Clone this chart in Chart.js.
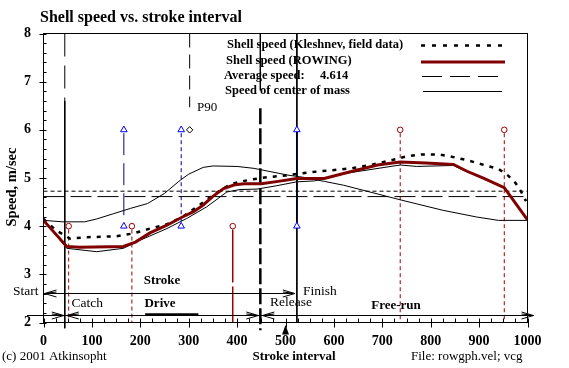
<!DOCTYPE html>
<html><head><meta charset="utf-8">
<script src="https://cdn.jsdelivr.net/npm/chart.js@4/dist/chart.umd.min.js"></script>
<style>html,body{margin:0;padding:0;background:#fff;}#wrap{width:569px;height:368px;}</style>
</head><body><div id="wrap"><canvas id="c" width="569" height="368"></canvas></div>
<script>
// ---- data ----
const xTickLabels = [0,100,200,300,400,500,600,700,800,900,1000];
const yTickLabels = [2,3,4,5,6,7,8];
const kleshX = [0,25,55,85,120,150,186,220,255,285,320,355,386,410,430,465,500,550,595,635,675,715,750,780,815,840,875,910,940,960,975,985,997];
const kleshY = [4.15,3.92,3.74,3.77,3.78,3.79,3.85,3.95,4.04,4.18,4.42,4.68,4.87,4.93,4.97,5.02,5.05,5.12,5.16,5.20,5.27,5.36,5.45,5.49,5.49,5.45,5.37,5.27,5.19,5.05,4.90,4.75,4.52];
const rowX = [0,48,75,165,190,220,255,285,310,330,350,372,395,415,450,485,523,580,630,690,737,790,847,875,910,952,1000];
const rowY = [4.12,3.58,3.56,3.58,3.67,3.86,4.02,4.18,4.30,4.44,4.62,4.78,4.86,4.88,4.88,4.93,4.99,4.99,5.12,5.27,5.33,5.31,5.28,5.14,4.99,4.80,4.13];
const thinX = [0,48,110,165,200,255,296,337,379,406,441,482,523,560,620,737,771,847,875,910,952,1000];
const thinY = [4.12,3.54,3.47,3.54,3.71,3.95,4.16,4.40,4.71,4.76,4.77,4.84,4.92,4.94,5.09,5.27,5.24,5.26,5.13,4.98,4.79,4.12];
const comX = [0,40,85,110,145,180,215,250,282,300,330,350,400,435,470,505,540,580,620,740,825,895,940,1000];
const comY = [4.12,4.09,4.09,4.15,4.26,4.37,4.47,4.68,4.95,5.08,5.22,5.25,5.24,5.20,5.13,5.06,5.01,4.93,4.85,4.54,4.33,4.19,4.12,4.12];
const avgSpeed = 4.614;
const upperLevel = 4.726;
const catchX = 44, releaseX = 448, finishX = 523.5, p90X = 302, strokeMarkX = 500;
const blueX = [166, 284.5, 523.5];
const triLevels = [6, 4];
const redLowX = [52, 182.6, 391];
const redLowY = 4;
const redHighX = [737, 952];
const redHighY = 6;
const diamondX = [302], diamondY = [6];
const strokeLineY = 2.61, phaseLineY = 2.15;
const powerBarX = [210, 320];

// ---- helpers ----
const pts = (xs, ys) => xs.map((x, i) => ({x, y: ys[i]}));
const seg = (x, y0, y1) => [{x, y: y0}, {x, y: y1}];
const hline = y => [{x: 0, y}, {x: 1000, y}];
const line = (data, color, width, dash, extra) => Object.assign({
  data, showLine: true, borderColor: color, borderWidth: width, borderDash: dash || [],
  pointRadius: 0, fill: false, tension: 0, borderCapStyle: 'butt'
}, extra || {});
const FONT = '"Liberation Serif", "Times New Roman", serif';
const RED = '#800000', DRED = '#a00000', NAVY = '#000090', BLUE = '#0000ff';

const triData = [];
blueX.forEach(x => triLevels.forEach(y => triData.push({x, y})));
const circData = redLowX.map(x => ({x, y: redLowY})).concat(redHighX.map(x => ({x, y: redHighY})));

const datasets = [
  {data: triData, showLine: false, pointStyle: 'triangle', pointRadius: 3.8, pointBorderColor: BLUE, pointBackgroundColor: '#fff', pointBorderWidth: 1},
  {data: circData, showLine: false, pointStyle: 'circle', pointRadius: 2.8, pointBorderColor: DRED, pointBackgroundColor: '#fff', pointBorderWidth: 1},
  {data: pts(diamondX, diamondY), showLine: false, pointStyle: 'rectRot', pointRadius: 3.2, pointBorderColor: '#000', pointBackgroundColor: '#fff', pointBorderWidth: 1},
  line(pts(rowX, rowY), RED, 3),
  line(pts(thinX, thinY), '#000', 1),
  line(pts(kleshX, kleshY), '#000', 2.5, [4, 6]),
  line(pts(comX, comY), '#000', 1),
  line(hline(avgSpeed), '#000', 1, [21, 6]),
  line(hline(upperLevel), '#000', 1, [4, 3]),
  line(seg(blueX[0], 5.93, 4.07), NAVY, 1, [22, 8]),
  line(seg(blueX[1], 5.93, 4.07), NAVY, 1, [4, 3]),
  line(seg(finishX, 8, 2), '#000', 1),
  line(seg(finishX, 6, 4), BLUE, 1),
  line(seg(catchX, 8, 6.6), '#000', 1, [23, 9]),
  line(seg(catchX, 6.6, 1.88), '#000', 1, [], {clip: false}),
  line(seg(p90X, 8, 6.47), '#000', 1, [14, 7]),
  line(seg(releaseX, 8, 6.82), '#000', 1),
  line(seg(releaseX, 6.45, 1.84), '#000', 2.5, [16, 4], {clip: false}),
  line(seg(redLowX[0], 3.93, 2), DRED, 1, [4, 3]),
  line(seg(redLowX[1], 3.93, 2), DRED, 1, [4, 3]),
  line(seg(redLowX[2], 3.93, 2), DRED, 1.5, [53, 4]),
  line(seg(redHighX[0], 5.93, 2), DRED, 1, [4, 3]),
  line(seg(redHighX[1], 5.93, 2), DRED, 1, [4, 3])
];

function T(ctx, s, x, y, font, align) {
  ctx.font = font; ctx.textAlign = align || 'left'; ctx.textBaseline = 'middle';
  ctx.fillStyle = '#000'; ctx.fillText(s, x, y);
}
function L(ctx, x0, y0, x1, y1, w, color, dash) {
  ctx.save(); ctx.beginPath(); ctx.lineWidth = w || 1; ctx.strokeStyle = color || '#000';
  ctx.setLineDash(dash || []); ctx.moveTo(x0, y0); ctx.lineTo(x1, y1); ctx.stroke(); ctx.restore();
}
function chevron(ctx, x, y, dir) {
  ctx.save(); ctx.beginPath(); ctx.strokeStyle = '#000'; ctx.lineWidth = 1;
  ctx.moveTo(x - dir * 12, y - 3.5); ctx.lineTo(x, y); ctx.lineTo(x - dir * 12, y + 3.5);
  ctx.moveTo(x - dir * 12, y - 1.5); ctx.lineTo(x - dir * 3, y - 0.5);
  ctx.stroke(); ctx.restore();
}

const deco = {
  id: 'deco',
  beforeDraw(chart) {
    const ctx = chart.ctx;
    ctx.save(); ctx.fillStyle = '#fff'; ctx.fillRect(0, 0, chart.width, chart.height); ctx.restore();
  },
  beforeDatasetsDraw(chart) {
    const ctx = chart.ctx;
    const lf = 'bold 12.5px ' + FONT;
    T(ctx, 'Shell speed (Kleshnev, field data)', 227, 45, lf);
    T(ctx, 'Shell speed (ROWING)', 226, 61, lf);
    T(ctx, 'Average speed:', 224, 75.5, lf);
    T(ctx, avgSpeed.toFixed(3), 320, 75.5, lf);
    T(ctx, 'Speed of center of mass', 225, 90.5, lf);
    L(ctx, 421, 45.5, 503, 45.5, 2.5, '#000', [4, 7]);
    L(ctx, 421, 62, 505, 62, 3, RED);
    L(ctx, 422, 76.5, 502, 76.5, 1, '#000', [20, 8]);
    L(ctx, 423, 91.5, 502, 91.5, 1, '#000');
  },
  afterDatasetsDraw(chart) {
    const ctx = chart.ctx, xs = chart.scales.x, ys = chart.scales.y, a = chart.chartArea;
    // frame
    ctx.save(); ctx.strokeStyle = '#000'; ctx.lineWidth = 1;
    ctx.strokeRect(a.left, a.top, a.right - a.left, a.bottom - a.top); ctx.restore();
    // x ticks
    for (let v = 0; v <= 1000; v += 25) {
      const px = Math.round(xs.getPixelForValue(v)) + 0.5;
      const major = v % 100 === 0;
      L(ctx, px, a.bottom - 4, px, a.bottom + (major ? 5 : 0), 1);
    }
    for (let i = 0; i <= 30; i++) {
      const v = 2 + i * 0.2;
      const py = Math.round(ys.getPixelForValue(v)) + 0.5;
      const major = i % 5 === 0;
      L(ctx, a.left - (major ? 4 : 0), py, a.left + 3, py, 1);
    }
    const tf = 'bold 14px ' + FONT;
    xTickLabels.forEach(v => T(ctx, String(v), xs.getPixelForValue(v), 341.5, tf, 'center'));
    yTickLabels.forEach(v => T(ctx, String(v), 31, ys.getPixelForValue(v), tf, 'right'));
    // title and axis labels
    T(ctx, 'Shell speed vs. stroke interval', 40, 18, 'bold 16px ' + FONT);
    ctx.save(); ctx.translate(12, 187); ctx.rotate(-Math.PI / 2);
    T(ctx, 'Speed, m/sec', 0, 0, 'bold 14.5px ' + FONT, 'center'); ctx.restore();
    T(ctx, 'Stroke interval', 294, 357, 'bold 13px ' + FONT, 'center');
    T(ctx, '(c) 2001 Atkinsopht', 2, 356.5, '13px ' + FONT);
    T(ctx, 'File: rowgph.vel; vcg', 411, 357, '13px ' + FONT);
    // stroke marker
    const mx = xs.getPixelForValue(strokeMarkX);
    ctx.save(); ctx.fillStyle = '#000'; ctx.beginPath();
    ctx.moveTo(mx, 325); ctx.lineTo(mx + 3.5, 334.5); ctx.lineTo(mx - 3.5, 334.5); ctx.closePath(); ctx.fill(); ctx.restore();
    // phase arrows
    const y1 = Math.round(ys.getPixelForValue(strokeLineY)) + 0.5;
    const y2 = Math.round(ys.getPixelForValue(phaseLineY)) + 0.5;
    const xc = xs.getPixelForValue(catchX), xr = xs.getPixelForValue(releaseX), xf = xs.getPixelForValue(finishX);
    L(ctx, a.left, y1, xf - 2, y1, 1);
    chevron(ctx, a.left + 1, y1, -1); chevron(ctx, xf - 2, y1, 1);
    L(ctx, 27, y2, a.right + 6, y2, 1);
    chevron(ctx, xc - 1, y2, 1); chevron(ctx, xc + 2, y2, -1);
    chevron(ctx, xr - 2, y2, 1); chevron(ctx, xr + 2, y2, -1);
    chevron(ctx, a.right + 6, y2, 1);
    L(ctx, xs.getPixelForValue(powerBarX[0]), y2 - 1, xs.getPixelForValue(powerBarX[1]), y2 - 1, 2.5);
    // phase labels
    const nf = '13.5px ' + FONT, bf = 'bold 13px ' + FONT;
    T(ctx, 'P90', 197, 108, '13px ' + FONT);
    T(ctx, 'Stroke', 162, 281, bf, 'center');
    T(ctx, 'Start', 38.5, 291.5, nf, 'right');
    T(ctx, 'Finish', 303, 291, nf);
    T(ctx, 'Catch', 71.5, 303, nf);
    T(ctx, 'Drive', 160, 304, bf, 'center');
    T(ctx, 'Release', 270, 302.5, nf);
    T(ctx, 'Free-run', 396, 305.5, bf, 'center');
  }
};

new Chart(document.getElementById('c'), {
  type: 'scatter',
  data: {datasets},
  options: {
    responsive: false, animation: false, devicePixelRatio: 1, events: [],
    layout: {padding: {left: 43.5, top: 33.5, right: 41.5, bottom: 45.5}},
    plugins: {legend: {display: false}, tooltip: {enabled: false}, title: {display: false}},
    scales: {
      x: {type: 'linear', min: 0, max: 1000, display: false},
      y: {type: 'linear', min: 2, max: 8, display: false}
    }
  },
  plugins: [deco]
});
</script></body></html>
